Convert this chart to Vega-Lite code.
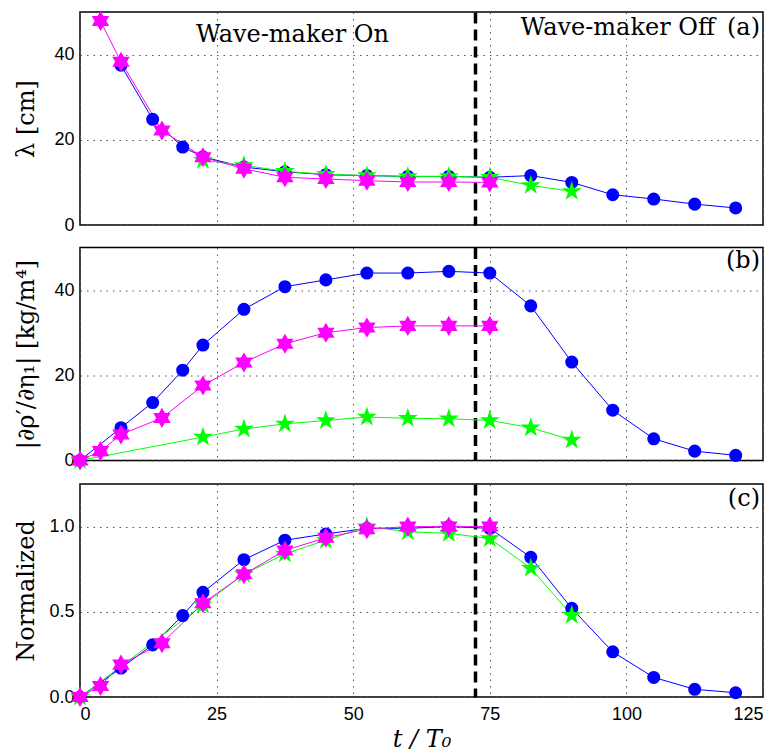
{
  "$schema": "https://vega.github.io/schema/vega-lite/v6.json",
  "padding": {"left": 13, "top": 10, "right": 2, "bottom": 0},
  "datasets": {
    "pts": [
      {"p":"a","s":"blue","t":7.5,"v":37.5},{"p":"a","s":"blue","t":13.3,"v":24.8},{"p":"a","s":"blue","t":18.8,"v":18.3},{"p":"a","s":"blue","t":22.5,"v":16.0},{"p":"a","s":"blue","t":30,"v":13.6},{"p":"a","s":"blue","t":37.5,"v":12.5},{"p":"a","s":"blue","t":45,"v":11.8},{"p":"a","s":"blue","t":52.5,"v":11.6},{"p":"a","s":"blue","t":60,"v":11.4},{"p":"a","s":"blue","t":67.5,"v":11.4},{"p":"a","s":"blue","t":75,"v":11.2},{"p":"a","s":"blue","t":82.5,"v":11.6},{"p":"a","s":"blue","t":90,"v":10.0},{"p":"a","s":"blue","t":97.5,"v":7.1},{"p":"a","s":"blue","t":105,"v":6.1},{"p":"a","s":"blue","t":112.5,"v":4.9},{"p":"a","s":"blue","t":120,"v":4.0},
      {"p":"b","s":"blue","t":0,"v":0},{"p":"b","s":"blue","t":7.5,"v":7.7},{"p":"b","s":"blue","t":13.3,"v":13.6},{"p":"b","s":"blue","t":18.8,"v":21.2},{"p":"b","s":"blue","t":22.5,"v":27.1},{"p":"b","s":"blue","t":30,"v":35.5},{"p":"b","s":"blue","t":37.5,"v":40.8},{"p":"b","s":"blue","t":45,"v":42.4},{"p":"b","s":"blue","t":52.5,"v":44.0},{"p":"b","s":"blue","t":60,"v":44.0},{"p":"b","s":"blue","t":67.5,"v":44.4},{"p":"b","s":"blue","t":75,"v":44.0},{"p":"b","s":"blue","t":82.5,"v":36.3},{"p":"b","s":"blue","t":90,"v":23.1},{"p":"b","s":"blue","t":97.5,"v":11.8},{"p":"b","s":"blue","t":105,"v":5.1},{"p":"b","s":"blue","t":112.5,"v":2.2},{"p":"b","s":"blue","t":120,"v":1.2},
      {"p":"c","s":"blue","t":0,"v":0},{"p":"c","s":"blue","t":7.5,"v":0.17},{"p":"c","s":"blue","t":13.3,"v":0.306},{"p":"c","s":"blue","t":18.8,"v":0.478},{"p":"c","s":"blue","t":22.5,"v":0.614},{"p":"c","s":"blue","t":30,"v":0.806},{"p":"c","s":"blue","t":37.5,"v":0.92},{"p":"c","s":"blue","t":45,"v":0.957},{"p":"c","s":"blue","t":52.5,"v":0.99},{"p":"c","s":"blue","t":60,"v":0.99},{"p":"c","s":"blue","t":67.5,"v":1.0},{"p":"c","s":"blue","t":75,"v":0.99},{"p":"c","s":"blue","t":82.5,"v":0.82},{"p":"c","s":"blue","t":90,"v":0.52},{"p":"c","s":"blue","t":97.5,"v":0.265},{"p":"c","s":"blue","t":105,"v":0.115},{"p":"c","s":"blue","t":112.5,"v":0.045},{"p":"c","s":"blue","t":120,"v":0.025},
      {"p":"a","s":"green","t":22.5,"v":15.2},{"p":"a","s":"green","t":30,"v":14.0},{"p":"a","s":"green","t":37.5,"v":12.6},{"p":"a","s":"green","t":45,"v":11.9},{"p":"a","s":"green","t":52.5,"v":11.6},{"p":"a","s":"green","t":60,"v":11.4},{"p":"a","s":"green","t":67.5,"v":11.4},{"p":"a","s":"green","t":75,"v":11.2},{"p":"a","s":"green","t":82.5,"v":9.3},{"p":"a","s":"green","t":90,"v":7.9},
      {"p":"b","s":"green","t":0,"v":0},{"p":"b","s":"green","t":22.5,"v":5.5},{"p":"b","s":"green","t":30,"v":7.4},{"p":"b","s":"green","t":37.5,"v":8.6},{"p":"b","s":"green","t":45,"v":9.4},{"p":"b","s":"green","t":52.5,"v":10.2},{"p":"b","s":"green","t":60,"v":9.9},{"p":"b","s":"green","t":67.5,"v":9.8},{"p":"b","s":"green","t":75,"v":9.4},{"p":"b","s":"green","t":82.5,"v":7.7},{"p":"b","s":"green","t":90,"v":4.8},
      {"p":"c","s":"green","t":0,"v":0},{"p":"c","s":"green","t":22.5,"v":0.54},{"p":"c","s":"green","t":30,"v":0.72},{"p":"c","s":"green","t":37.5,"v":0.84},{"p":"c","s":"green","t":45,"v":0.92},{"p":"c","s":"green","t":52.5,"v":1.0},{"p":"c","s":"green","t":60,"v":0.97},{"p":"c","s":"green","t":67.5,"v":0.96},{"p":"c","s":"green","t":75,"v":0.93},{"p":"c","s":"green","t":82.5,"v":0.756},{"p":"c","s":"green","t":90,"v":0.48},
      {"p":"a","s":"magenta","t":3.75,"v":47.9},{"p":"a","s":"magenta","t":7.5,"v":38.3},{"p":"a","s":"magenta","t":15,"v":22.2},{"p":"a","s":"magenta","t":22.5,"v":15.9},{"p":"a","s":"magenta","t":30,"v":13.2},{"p":"a","s":"magenta","t":37.5,"v":11.2},{"p":"a","s":"magenta","t":45,"v":10.8},{"p":"a","s":"magenta","t":52.5,"v":10.4},{"p":"a","s":"magenta","t":60,"v":10.1},{"p":"a","s":"magenta","t":67.5,"v":10.1},{"p":"a","s":"magenta","t":75,"v":10.0},
      {"p":"b","s":"magenta","t":0,"v":0},{"p":"b","s":"magenta","t":3.75,"v":2.2},{"p":"b","s":"magenta","t":7.5,"v":6.1},{"p":"b","s":"magenta","t":15,"v":10.0},{"p":"b","s":"magenta","t":22.5,"v":17.6},{"p":"b","s":"magenta","t":30,"v":23.0},{"p":"b","s":"magenta","t":37.5,"v":27.4},{"p":"b","s":"magenta","t":45,"v":30.0},{"p":"b","s":"magenta","t":52.5,"v":31.2},{"p":"b","s":"magenta","t":60,"v":31.6},{"p":"b","s":"magenta","t":67.5,"v":31.6},{"p":"b","s":"magenta","t":75,"v":31.6},
      {"p":"c","s":"magenta","t":0,"v":0},{"p":"c","s":"magenta","t":3.75,"v":0.065},{"p":"c","s":"magenta","t":7.5,"v":0.19},{"p":"c","s":"magenta","t":15,"v":0.316},{"p":"c","s":"magenta","t":22.5,"v":0.55},{"p":"c","s":"magenta","t":30,"v":0.72},{"p":"c","s":"magenta","t":37.5,"v":0.86},{"p":"c","s":"magenta","t":45,"v":0.935},{"p":"c","s":"magenta","t":52.5,"v":0.985},{"p":"c","s":"magenta","t":60,"v":1.0},{"p":"c","s":"magenta","t":67.5,"v":1.0},{"p":"c","s":"magenta","t":75,"v":1.0}
    ]
  },
  "vconcat": [
    {
      "width": 683, "height": 213,
      "title": {"text": "Wave-maker Off\u2002(a)", "offset": -29.3},
      "data": {"name": "pts"},
      "transform": [{"filter": "datum.p==='a'"}],
      "mark": {"type": "line", "strokeWidth": 1, "point": {"filled": true, "size": 170, "opacity": 1, "strokeWidth": 0}},
      "encoding": {
        "x": {"field": "t", "type": "quantitative", "scale": {"domain": [0, 125], "nice": false},
              "axis": {"values": [0, 25, 50, 72.3, 75, 100, 125], "labels": false, "title": "Wave-maker On", "titleX": 212, "titleY": -183.7, "titleBaseline": "alphabetic", "titleAlign": "center"}},
        "y": {"field": "v", "type": "quantitative", "scale": {"domain": [0, 50], "nice": false}, "axis": {"values": [0, 20, 40], "title": "λ [cm]"}},
        "color": {"field": "s", "type": "nominal", "scale": {"domain": ["blue", "green", "magenta"], "range": ["#0000ff", "#00ff00", "#ff00ff"]}, "legend": null},
        "shape": {"field": "s", "type": "nominal", "scale": {"domain": ["blue", "green", "magenta"], "range": ["circle", "M0,-1.6L0.359,-0.494L1.522,-0.494L0.58,0.189L0.94,1.294L0,0.61L-0.94,1.294L-0.58,0.189L-1.522,-0.494L-0.359,-0.494Z", "M0,-1.54L1.333,0.77L-1.333,0.77Z M0,1.54L-1.333,-0.77L1.333,-0.77Z"]}, "legend": null}
      }
    },
    {
      "width": 683, "height": 213,
      "title": {"text": "(b)", "offset": -25.7},
      "data": {"name": "pts"},
      "transform": [{"filter": "datum.p==='b'"}],
      "mark": {"type": "line", "strokeWidth": 1, "point": {"filled": true, "size": 170, "opacity": 1, "strokeWidth": 0}},
      "encoding": {
        "x": {"field": "t", "type": "quantitative", "scale": {"domain": [0, 125], "nice": false}, "axis": {"values": [0, 25, 50, 72.3, 75, 100, 125], "labels": false, "title": null}},
        "y": {"field": "v", "type": "quantitative", "scale": {"domain": [0, 50], "nice": false}, "axis": {"values": [0, 20, 40], "title": "|∂ρ′/∂η₁| [kg/m⁴]"}},
        "color": {"field": "s", "type": "nominal", "legend": null},
        "shape": {"field": "s", "type": "nominal", "legend": null}
      }
    },
    {
      "width": 683, "height": 213,
      "title": {"text": "(c)", "offset": -27.4},
      "data": {"name": "pts"},
      "transform": [{"filter": "datum.p==='c'"}],
      "mark": {"type": "line", "strokeWidth": 1, "point": {"filled": true, "size": 170, "opacity": 1, "strokeWidth": 0}},
      "encoding": {
        "x": {"field": "t", "type": "quantitative", "scale": {"domain": [0, 125], "nice": false},
              "axis": {"values": [0, 25, 50, 72.3, 75, 100, 125], "labelExpr": "datum.value == 72.3 ? '' : datum.label", "title": "t / T₀", "titleFontStyle": "italic", "labelPadding": 8, "titlePadding": 4}},
        "y": {"field": "v", "type": "quantitative", "scale": {"domain": [0, 1.25], "nice": false}, "axis": {"values": [0, 0.5, 1], "title": "Normalized"}},
        "color": {"field": "s", "type": "nominal", "legend": null},
        "shape": {"field": "s", "type": "nominal", "legend": null}
      }
    }
  ],
  "spacing": 11.5,
  "resolve": {"scale": {"y": "independent"}},
  "config": {
    "view": {"stroke": "black", "strokeWidth": 1.5},
    "title": {"font": "DejaVu Serif", "fontSize": 24, "fontWeight": "normal", "color": "black", "anchor": "end", "baseline": "alphabetic", "dx": -3},
    "axis": {
      "labelFont": "Liberation Sans", "labelFontSize": 18, "labelColor": "black", "labelPadding": 6,
      "titleFont": "DejaVu Serif", "titleFontWeight": "normal", "titleFontSize": 24, "titleColor": "black",
      "grid": true, "gridWidth": 1,
      "domain": false, "ticks": false
    },
    "axisX": {
      "gridColor": {"condition": {"test": "datum.value == 72.3", "value": "black"}, "value": "#555"},
      "gridDash": {"condition": {"test": "datum.value == 72.3", "value": [11, 6]}, "value": [1.5, 5]},
      "gridWidth": {"condition": {"test": "datum.value == 72.3", "value": 3.5}, "value": 1}
    },
    "axisY": {"gridColor": "#555", "gridDash": [1.5, 5], "minExtent": 30, "maxExtent": 30, "titlePadding": 12}
  }
}
